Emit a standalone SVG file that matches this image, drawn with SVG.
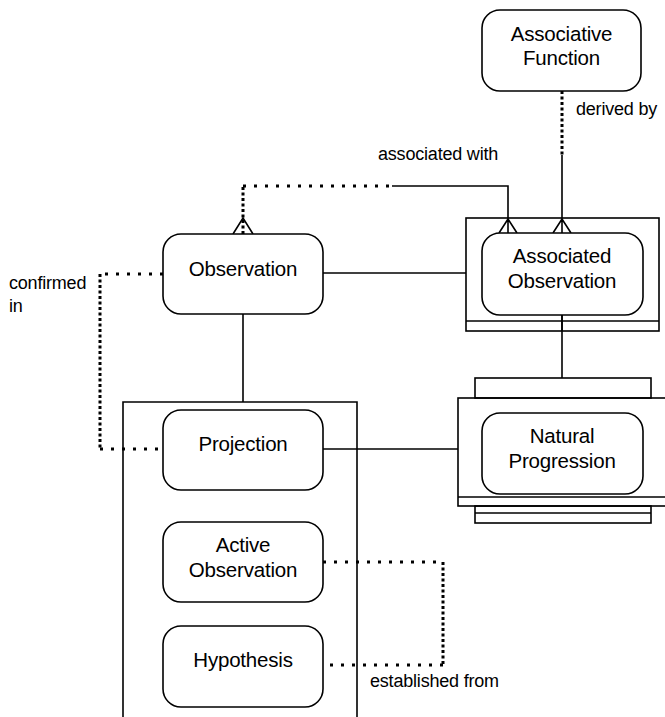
<svg xmlns="http://www.w3.org/2000/svg" width="665" height="717" viewBox="0 0 665 717">
<style>
.n{fill:#fff;stroke:#000;stroke-width:1.6}
.b{fill:none;stroke:#000;stroke-width:1.6}
.t{font-family:"Liberation Sans",Arial,sans-serif;font-size:20.5px;fill:#000;text-anchor:middle;letter-spacing:-0.2px}
.l{font-family:"Liberation Sans",Arial,sans-serif;font-size:18px;fill:#000;letter-spacing:-0.2px}
.s{fill:none;stroke:#000;stroke-width:1.6}
.dh{fill:none;stroke:#000;stroke-width:3;stroke-dasharray:3 8}
.dv{fill:none;stroke:#000;stroke-width:3;stroke-dasharray:3 2.5}
</style>
<rect width="665" height="717" fill="#fff"/>
<g id="connectors">
  <path class="dv" d="M562,91 V155"/>
  <path class="s" d="M562,155 V233 M553,233 L562,219 L571,233"/>
  <path class="dv" d="M243,234 V186"/>
  <path class="dh" d="M243,186 H392"/>
  <path class="s" d="M392,186 H508 V233 M499,233 L508,219 L517,233"/>
  <path class="s" d="M233,234 L243,218 L253,234"/>
  <path class="s" d="M323,273 H466"/>
  <path class="s" d="M243,314 V402"/>
  <path class="dh" d="M163,274 H100"/>
  <path class="dv" d="M100,274 V449"/>
  <path class="dh" d="M100,449 H163"/>
  <path class="s" d="M323,449 H458"/>
  <path class="s" d="M562,315 V378"/>
  <path class="dh" d="M323,562 H443"/>
  <path class="dv" d="M443,562 V665"/>
  <path class="dh" d="M443,665 H323"/>
  <text class="l" x="576" y="115">derived by</text>
  <text class="l" x="378" y="160">associated with</text>
  <text class="l" x="9" y="289">confirmed</text>
  <text class="l" x="9" y="312">in</text>
  <text class="l" x="370" y="687">established from</text>
</g>
<g id="projection-container">
  <path class="b" d="M123,717 V402 H357 V717"/>
</g>
<g id="associative-function">
  <rect class="n" x="482" y="10" width="159" height="81" rx="18"/>
  <text class="t" x="561.5" y="41">Associative</text>
  <text class="t" x="561.5" y="65">Function</text>
</g>
<g id="associated-observation">
  <rect class="b" x="466" y="218" width="193" height="113"/>
  <path class="b" d="M466,321 H659"/>
  <rect class="n" x="482" y="233" width="161" height="82" rx="18"/>
  <path class="s" d="M562,315 V331"/>
  <text class="t" x="562" y="263">Associated</text>
  <text class="t" x="562" y="288">Observation</text>
</g>
<g id="observation">
  <rect class="n" x="163" y="234" width="160" height="80" rx="18"/>
  <text class="t" x="243" y="276">Observation</text>
</g>
<g id="projection">
  <rect class="n" x="163" y="410" width="160" height="80" rx="18"/>
  <text class="t" x="243" y="451">Projection</text>
</g>
<g id="active-observation">
  <rect class="n" x="163" y="522" width="160" height="80" rx="18"/>
  <text class="t" x="243" y="552">Active</text>
  <text class="t" x="243" y="577">Observation</text>
</g>
<g id="hypothesis">
  <rect class="n" x="163" y="626" width="160" height="81" rx="18"/>
  <text class="t" x="243" y="667">Hypothesis</text>
</g>
<g id="natural-progression">
  <rect class="b" x="475" y="378" width="176" height="20"/>
  <rect class="b" x="458" y="398" width="210" height="108"/>
  <path class="b" d="M458,497 H668"/>
  <rect class="b" x="475" y="506" width="176" height="17"/>
  <path class="b" d="M475,513 H651"/>
  <rect class="n" x="482" y="413" width="161" height="81" rx="18"/>
  <text class="t" x="562" y="443">Natural</text>
  <text class="t" x="562" y="468">Progression</text>
</g>
</svg>
